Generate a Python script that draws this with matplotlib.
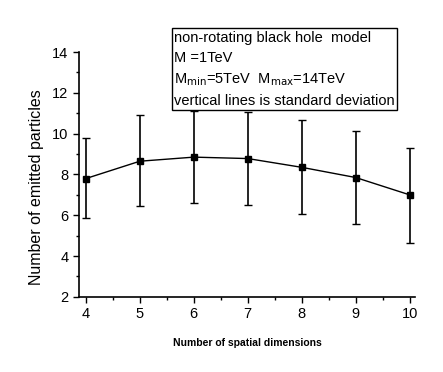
import matplotlib
matplotlib.use('Agg')
import matplotlib.pyplot as plt
from matplotlib.ticker import MultipleLocator

plt.rcParams['font.family'] = ['Liberation Sans', 'DejaVu Sans']

# data
dims = [4, 5, 6, 7, 8, 9, 10]
particles = [7.8, 8.65, 8.85, 8.78, 8.35, 7.85, 7.0]
err_up = [9.8, 10.9, 11.12, 11.05, 10.65, 10.15, 9.32]
err_low = [5.85, 6.45, 6.6, 6.5, 6.05, 5.55, 4.62]

yerr = [[p - l for p, l in zip(particles, err_low)],
        [u - p for p, u in zip(particles, err_up)]]

fig = plt.figure(figsize=(4.43, 3.72), dpi=100)
ax = fig.add_axes([0.178, 0.202, 0.759, 0.658])

ax.errorbar(dims, particles, yerr=yerr, color='black', lw=1.0,
            marker='s', markersize=5, capsize=3, elinewidth=1.2, capthick=1.0)

ax.set_xlim(3.87, 10.1)
ax.set_ylim(2, 14)
ax.xaxis.set_major_locator(MultipleLocator(1))
ax.xaxis.set_minor_locator(MultipleLocator(0.5))
ax.yaxis.set_major_locator(MultipleLocator(2))
ax.yaxis.set_minor_locator(MultipleLocator(1))
ax.tick_params(which='major', direction='out', length=4, width=1, labelsize=10.5)
ax.tick_params(which='minor', direction='out', length=2, width=1)
ax.spines['top'].set_visible(False)
ax.spines['right'].set_visible(False)
ax.spines['left'].set_linewidth(1.2)
ax.spines['bottom'].set_linewidth(1.2)

ax.set_ylabel('Number of emitted particles', fontsize=11.5)
ax.yaxis.set_label_coords(-0.105, 0.45)
ax.set_xlabel('Number of spatial dimensions', fontsize=7.5, fontweight='bold',
              labelpad=12)

txt = ('non-rotating black hole  model\n'
       'M =1TeV\n'
       r'M$_{\rm min}$=5TeV  M$_{\rm max}$=14TeV' + '\n'
       'vertical lines is standard deviation')
fig.text(0.393, 0.918, txt, fontsize=10.5, va='top', ha='left', linespacing=1.55,
         bbox=dict(boxstyle='square,pad=0.15', facecolor='white',
                   edgecolor='black', lw=1.0))

fig.savefig('out.png', dpi=100)
